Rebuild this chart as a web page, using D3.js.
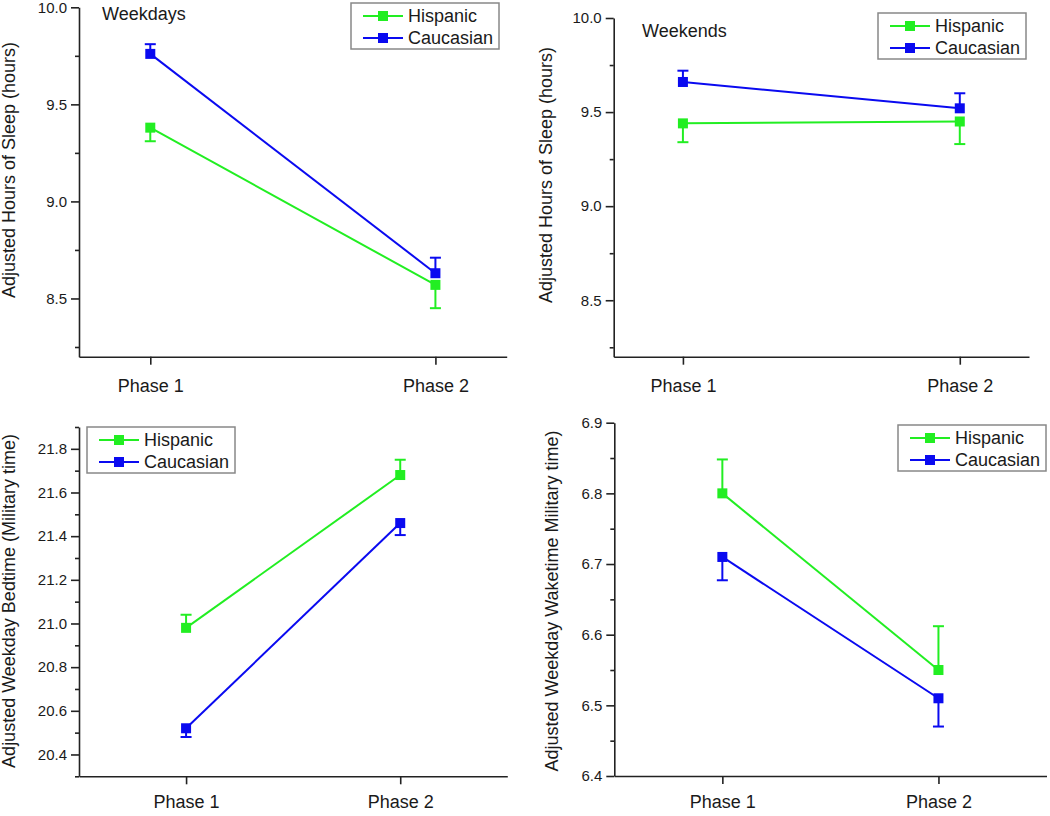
<!DOCTYPE html>
<html>
<head>
<meta charset="utf-8">
<script src="https://cdn.jsdelivr.net/npm/d3@7"></script>
<style>
  body { margin: 0; background: #fff; }
  svg { display: block; font-family: "Liberation Sans", Arial, sans-serif; }
  .axis path, .axis line { stroke: #222; stroke-width: 1.6px; }
  .axis text { fill: #1a1a1a; }
</style>
</head>
<body>
<div id="chart"></div>
<script>
// data
const phases = ["Phase 1", "Phase 2"];
const groups = ["Hispanic", "Caucasian"];

// weekday sleep (hours)
const sleepWeekdayHispanic = [9.38, 8.57];
const sleepWeekdayCaucasian = [9.76, 8.63];
// one sided error bars, negative = drawn downward
const sleepWeekdayHispanicErr = [-0.07, -0.12];
const sleepWeekdayCaucasianErr = [0.05, 0.08];

// weekend sleep (hours)
const sleepWeekendHispanic = [9.44, 9.45];
const sleepWeekendCaucasian = [9.66, 9.52];
const sleepWeekendHispanicErr = [-0.10, -0.12];
const sleepWeekendCaucasianErr = [0.06, 0.08];

// weekday bedtime
const bedtimeHispanic = [20.98, 21.68];
const bedtimeCaucasian = [20.52, 21.46];
const bedtimeHispanicErr = [0.06, 0.07];
const bedtimeCaucasianErr = [-0.04, -0.055];

// weekday waketime
const waketimeHispanic = [6.80, 6.55];
const waketimeCaucasian = [6.71, 6.51];
const waketimeHispanicErr = [0.048, 0.062];
const waketimeCaucasianErr = [-0.033, -0.04];

// tick labels
const sleepTicks = [8.5, 9.0, 9.5, 10.0];
const sleepMinor = [8.25, 8.75, 9.25, 9.75];
const bedTicks = [20.4, 20.6, 20.8, 21.0, 21.2, 21.4, 21.6, 21.8];
const bedMinor = [20.3, 20.5, 20.7, 20.9, 21.1, 21.3, 21.5, 21.7, 21.9];
const wakeTicks = [6.4, 6.5, 6.6, 6.7, 6.8, 6.9];
const wakeMinor = [6.45, 6.55, 6.65, 6.75, 6.85];

const colors = ["#22ee22", "#0a0af0"];

const width = 1050, height = 816;

const svg = d3.select("#chart").append("svg")
  .attr("width", width)
  .attr("height", height);

const panels = [
  {
    x0: 79, x1: 506.7, yTop: 7.3, yBot: 356.7, pad: 15,
    xDomain: [0.75, 2.25], yDomain: [8.2, 10.0],
    ticks: sleepTicks, minor: sleepMinor, fmt: d3.format(".1f"),
    series: [sleepWeekdayHispanic, sleepWeekdayCaucasian],
    errs: [sleepWeekdayHispanicErr, sleepWeekdayCaucasianErr],
    ylabel: "Adjusted Hours of Sleep (hours)", labX: 9, labY: 170,
    note: "Weekdays", noteX: 102, noteY: 20,
    legX: 351, legY: 3
  },
  {
    x0: 613.7, x1: 1029, yTop: 18, yBot: 356.7, pad: 15,
    xDomain: [0.75, 2.25], yDomain: [8.2, 10.0],
    ticks: sleepTicks, minor: sleepMinor, fmt: d3.format(".1f"),
    series: [sleepWeekendHispanic, sleepWeekendCaucasian],
    errs: [sleepWeekendHispanicErr, sleepWeekendCaucasianErr],
    ylabel: "Adjusted Hours of Sleep (hours)", labX: 546, labY: 175,
    note: "Weekends", noteX: 642, noteY: 37,
    legX: 878, legY: 13
  },
  {
    x0: 79, x1: 507.3, yTop: 427, yBot: 776.3, pad: 11,
    xDomain: [0.5, 2.5], yDomain: [20.3, 21.9],
    ticks: bedTicks, minor: bedMinor, fmt: d3.format(".1f"),
    series: [bedtimeHispanic, bedtimeCaucasian],
    errs: [bedtimeHispanicErr, bedtimeCaucasianErr],
    ylabel: "Adjusted Weekday Bedtime (Military time)", labX: 9, labY: 601,
    legX: 87, legY: 427
  },
  {
    x0: 614.3, x1: 1046.5, yTop: 422.7, yBot: 776, pad: 11,
    xDomain: [0.5, 2.5], yDomain: [6.4, 6.9],
    ticks: wakeTicks, minor: wakeMinor, fmt: d3.format(".1f"),
    series: [waketimeHispanic, waketimeCaucasian],
    errs: [waketimeHispanicErr, waketimeCaucasianErr],
    ylabel: "Adjusted Weekday Waketime Military time)", labX: 552, labY: 601,
    legX: 898, legY: 425
  }
];

panels.forEach(p => {
  const g = svg.append("g");

  const x = d3.scaleLinear().domain(p.xDomain).range([p.x0, p.x1]);
  const y = d3.scaleLinear().domain(p.yDomain).range([p.yBot, p.yTop]);

  // minor ticks first
  g.append("g")
    .attr("class", "axis")
    .attr("transform", `translate(${p.x0},0)`)
    .call(d3.axisLeft(y).tickValues(p.minor).tickSize(4).tickSizeOuter(0).tickFormat(""))
    .call(a => a.select(".domain").remove());

  g.append("g")
    .attr("class", "axis")
    .attr("transform", `translate(${p.x0},0)`)
    .call(d3.axisLeft(y).tickValues(p.ticks).tickSize(8).tickSizeOuter(0).tickPadding(4).tickFormat(p.fmt))
    .call(a => a.selectAll("text").style("font-size", "15px"));

  g.append("g")
    .attr("class", "axis")
    .attr("transform", `translate(0,${p.yBot})`)
    .call(d3.axisBottom(x).tickValues([1, 2]).tickSize(8).tickSizeOuter(0).tickPadding(p.pad)
      .tickFormat(d => phases[d - 1]))
    .call(a => a.selectAll("text").style("font-size", "18px"));

  // y label
  g.append("text")
    .attr("transform", `translate(${p.labX},${p.labY}) rotate(-90)`)
    .attr("text-anchor", "middle")
    .attr("dy", "0.35em")
    .style("font-size", "18px")
    .attr("fill", "#1a1a1a")
    .text(p.ylabel);

  if (p.note) {
    g.append("text")
      .attr("x", p.noteX).attr("y", p.noteY)
      .style("font-size", "18px")
      .attr("fill", "#1a1a1a")
      .text(p.note);
  }

  const line = d3.line()
    .x((d, i) => x(i + 1))
    .y(d => y(d));

  p.series.forEach((vals, s) => {
    g.append("path")
      .datum(vals)
      .attr("fill", "none")
      .attr("stroke", colors[s])
      .attr("stroke-width", 2)
      .attr("d", line);
  });

  // error bars
  p.series.forEach((vals, s) => {
    vals.forEach((v, i) => {
      const e = p.errs[s][i];
      const cx = x(i + 1);
      const eb = g.append("g").attr("stroke", colors[s]).attr("stroke-width", 2);
      eb.append("line")
        .attr("x1", cx).attr("x2", cx)
        .attr("y1", y(v)).attr("y2", y(v + e));
      eb.append("line")
        .attr("x1", cx - 5.5).attr("x2", cx + 5.5)
        .attr("y1", y(v + e)).attr("y2", y(v + e));
    });
  });

  // markers
  p.series.forEach((vals, s) => {
    g.selectAll(null)
      .data(vals)
      .enter()
      .append("rect")
      .attr("x", (d, i) => x(i + 1) - 5)
      .attr("y", d => y(d) - 5)
      .attr("width", 10)
      .attr("height", 10)
      .attr("fill", colors[s]);
  });

  // legend
  const leg = g.append("g").attr("transform", `translate(${p.legX},${p.legY})`);
  leg.append("rect")
    .attr("width", 148).attr("height", 46)
    .attr("fill", "#fff")
    .attr("stroke", "#888")
    .attr("stroke-width", 1.5);
  groups.forEach((name, k) => {
    const ry = 13 + k * 22;
    leg.append("line")
      .attr("x1", 12).attr("x2", 52)
      .attr("y1", ry).attr("y2", ry)
      .attr("stroke", colors[k]).attr("stroke-width", 2);
    leg.append("rect")
      .attr("x", 27).attr("y", ry - 5)
      .attr("width", 10).attr("height", 10)
      .attr("fill", colors[k]);
    leg.append("text")
      .attr("x", 57).attr("y", ry)
      .attr("dy", "0.35em")
      .style("font-size", "18px")
      .attr("fill", "#1a1a1a")
      .text(name);
  });
});
</script>
</body>
</html>
